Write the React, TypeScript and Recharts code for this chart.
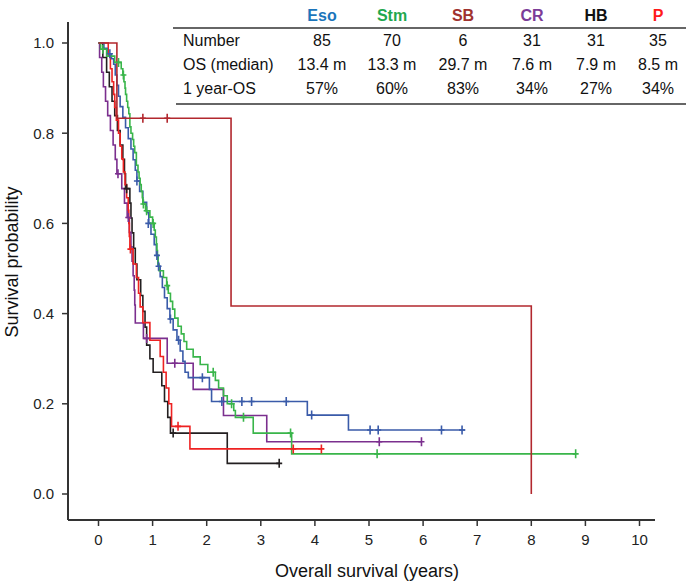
import React from 'react';
import { ComposedChart, Line, Scatter, XAxis, YAxis } from 'recharts';

if (typeof document !== 'undefined') {
  document.body.style.margin = '0';
  document.body.style.overflow = 'hidden';
}

const groups = ['Eso', 'Stm', 'SB', 'CR', 'HB', 'P'];
const headerColors = ['#1b75bb', '#1fa84f', '#a0322f', '#7c3c98', '#111111', '#ff1a1a'];
const curveColors = ['#3a5ba9', '#39b54a', '#b2282e', '#7b2f8e', '#231f20', '#ee2222'];
const numbers = ['85', '70', '6', '31', '31', '35'];
const medianOS = ['13.4 m', '13.3 m', '29.7 m', '7.6 m', '7.9 m', '8.5 m'];
const oneYearOS = ['57%', '60%', '83%', '34%', '27%', '34%'];
const rowLabels = ['Number', 'OS (median)', '1 year-OS'];
const xTicks = [0, 1, 2, 3, 4, 5, 6, 7, 8, 9, 10];
const yTicks = [0, 0.2, 0.4, 0.6, 0.8, 1.0];

const esoSteps = [
  [0, 1], [0.1, 0.988], [0.16, 0.976], [0.24, 0.965], [0.28, 0.953], [0.31, 0.929], [0.34, 0.906],
  [0.37, 0.882], [0.4, 0.859], [0.45, 0.835], [0.5, 0.812], [0.55, 0.788], [0.6, 0.765], [0.64, 0.741],
  [0.68, 0.718], [0.71, 0.694], [0.76, 0.671], [0.82, 0.647], [0.89, 0.624], [0.93, 0.6], [0.97, 0.576],
  [1.03, 0.553], [1.07, 0.529], [1.1, 0.505], [1.14, 0.482], [1.18, 0.458], [1.22, 0.435], [1.27, 0.411],
  [1.32, 0.388], [1.38, 0.364], [1.45, 0.341], [1.51, 0.317], [1.56, 0.294], [1.6, 0.27], [1.66, 0.258],
  [2.05, 0.232], [2.09, 0.205], [3.86, 0.175], [4.62, 0.142], [6.78, 0.142],
];
const esoCensor = [
  [0.21, 0.976], [0.71, 0.694], [0.92, 0.6], [1.08, 0.529], [1.11, 0.505], [1.33, 0.388], [1.48, 0.341],
  [1.92, 0.258], [2.28, 0.205], [2.65, 0.205], [2.83, 0.205], [3.47, 0.205], [3.94, 0.175],
  [5.02, 0.142], [5.17, 0.142], [6.34, 0.142], [6.72, 0.142],
];

const stmSteps = [
  [0, 1], [0.04, 0.986], [0.15, 0.971], [0.3, 0.957], [0.42, 0.943], [0.45, 0.929], [0.47, 0.914],
  [0.49, 0.9], [0.5, 0.886], [0.52, 0.871], [0.54, 0.857], [0.56, 0.843], [0.58, 0.814], [0.6, 0.8],
  [0.63, 0.786], [0.65, 0.771], [0.67, 0.757], [0.7, 0.729], [0.73, 0.714], [0.75, 0.7], [0.77, 0.686],
  [0.79, 0.671], [0.81, 0.657], [0.82, 0.643], [0.87, 0.628], [0.95, 0.614], [1.0, 0.6], [1.03, 0.585],
  [1.05, 0.57], [1.07, 0.555], [1.08, 0.54], [1.09, 0.525], [1.1, 0.51], [1.12, 0.495], [1.2, 0.48],
  [1.26, 0.462], [1.29, 0.445], [1.33, 0.427], [1.37, 0.41], [1.41, 0.39], [1.47, 0.372], [1.53, 0.355],
  [1.58, 0.338], [1.63, 0.321], [1.75, 0.304], [1.88, 0.287], [2.02, 0.27], [2.16, 0.252], [2.22, 0.235],
  [2.31, 0.218], [2.38, 0.2], [2.5, 0.185], [2.53, 0.17], [2.86, 0.135], [3.57, 0.089], [8.82, 0.089],
];
const stmCensor = [
  [0.08, 0.986], [0.37, 0.957], [0.46, 0.929], [0.83, 0.643], [0.89, 0.628], [1.01, 0.6], [1.27, 0.462],
  [2.12, 0.27], [2.46, 0.2], [2.68, 0.17], [3.55, 0.135], [5.15, 0.089], [8.82, 0.089],
];

const sbSteps = [[0, 1], [0.34, 0.833], [2.45, 0.417], [8.0, 0]];
const sbCensor = [[0.82, 0.833], [1.27, 0.833]];

const crSteps = [
  [0, 1], [0.02, 0.968], [0.06, 0.935], [0.09, 0.903], [0.13, 0.871], [0.17, 0.839], [0.22, 0.806],
  [0.27, 0.774], [0.31, 0.742], [0.34, 0.71], [0.43, 0.677], [0.48, 0.645], [0.53, 0.613], [0.57, 0.58],
  [0.6, 0.548], [0.62, 0.516], [0.64, 0.484], [0.66, 0.452], [0.67, 0.419], [0.68, 0.379], [0.83, 0.345],
  [1.27, 0.29], [1.75, 0.232], [2.31, 0.174], [3.11, 0.116], [5.97, 0.116],
];
const crCensor = [[0.36, 0.71], [0.55, 0.613], [0.89, 0.345], [1.41, 0.29], [5.19, 0.116], [5.97, 0.116]];

const hbSteps = [
  [0, 1], [0.08, 0.968], [0.15, 0.935], [0.2, 0.903], [0.25, 0.871], [0.3, 0.839], [0.35, 0.806],
  [0.4, 0.774], [0.45, 0.742], [0.48, 0.71], [0.5, 0.677], [0.58, 0.645], [0.6, 0.612], [0.62, 0.579],
  [0.65, 0.545], [0.68, 0.51], [0.71, 0.475], [0.78, 0.44], [0.82, 0.405], [0.86, 0.37], [0.89, 0.33],
  [0.95, 0.3], [1.01, 0.27], [1.17, 0.24], [1.22, 0.205], [1.28, 0.17], [1.33, 0.135], [2.38, 0.068],
  [3.34, 0.068],
];
const hbCensor = [[0.52, 0.677], [1.38, 0.135], [3.34, 0.068]];

const pSteps = [
  [0, 1], [0.18, 0.971], [0.22, 0.943], [0.25, 0.914], [0.28, 0.886], [0.3, 0.857], [0.33, 0.829],
  [0.37, 0.8], [0.4, 0.771], [0.43, 0.743], [0.46, 0.714], [0.49, 0.686], [0.52, 0.657], [0.55, 0.629],
  [0.56, 0.6], [0.57, 0.571], [0.58, 0.543], [0.64, 0.51], [0.7, 0.48], [0.74, 0.445], [0.77, 0.415],
  [0.82, 0.38], [0.95, 0.341], [1.14, 0.305], [1.2, 0.27], [1.25, 0.235], [1.3, 0.2], [1.35, 0.15],
  [1.69, 0.1], [4.12, 0.1],
];
const pCensor = [[0.59, 0.543], [1.47, 0.15], [3.6, 0.1], [4.12, 0.1]];

const toPts = (a: number[][]) => a.map(([t, s]) => ({ t, s }));

const series = [
  { key: 'HB', steps: hbSteps, censor: hbCensor, color: curveColors[4] },
  { key: 'CR', steps: crSteps, censor: crCensor, color: curveColors[3] },
  { key: 'P', steps: pSteps, censor: pCensor, color: curveColors[5] },
  { key: 'Eso', steps: esoSteps, censor: esoCensor, color: curveColors[0] },
  { key: 'Stm', steps: stmSteps, censor: stmCensor, color: curveColors[1] },
  { key: 'SB', steps: sbSteps, censor: sbCensor, color: curveColors[2] },
];

const FONT = '"Liberation Sans", Arial, Helvetica, sans-serif';

const makeCross = (color: string) => (props: any) => {
  const { cx, cy } = props;
  if (cx == null || cy == null) return <g />;
  return (
    <path
      d={`M${cx},${cy - 4.5}L${cx},${cy + 4.5}M${cx - 3},${cy}L${cx + 3},${cy}`}
      stroke={color}
      strokeWidth={1.6}
      fill="none"
    />
  );
};

const colX = [322, 392, 463, 532, 596, 658];
const rowY = [40, 64, 88];

export default function App() {
  const W = 686;
  const H = 581;
  return (
    <div style={{ position: 'relative', width: W, height: H, fontFamily: FONT, overflow: 'hidden' }}>
      <ComposedChart
        width={W}
        height={H}
        margin={{ top: 22, right: 31, bottom: 0, left: 0 }}
      >
        <XAxis
          type="number"
          dataKey="t"
          domain={[-0.5638, 10.2865]}
          ticks={xTicks}
          allowDataOverflow
          height={61}
          tickSize={6}
          tickMargin={8}
          axisLine={{ stroke: '#333', strokeWidth: 2 }}
          tickLine={{ stroke: '#333', strokeWidth: 1.5 }}
          tick={{ fill: '#222', fontSize: 15, fontFamily: FONT }}
        />
        <YAxis
          type="number"
          dataKey="s"
          domain={[-0.05765, 1.04656]}
          ticks={yTicks}
          allowDataOverflow
          width={68}
          tickSize={6}
          tickMargin={8}
          tickFormatter={(v: number) => v.toFixed(1)}
          axisLine={{ stroke: '#333', strokeWidth: 2 }}
          tickLine={{ stroke: '#333', strokeWidth: 1.5 }}
          tick={{ fill: '#222', fontSize: 15, fontFamily: FONT }}
        />
        {series.map((s) => (
          <Line
            key={s.key}
            data={toPts(s.steps)}
            dataKey="s"
            type="stepAfter"
            stroke={s.color}
            strokeWidth={1.6}
            dot={false}
            activeDot={false}
            isAnimationActive={false}
          />
        ))}
        {series.map((s) => (
          <Scatter
            key={s.key + '-c'}
            data={toPts(s.censor)}
            dataKey="s"
            shape={makeCross(s.color)}
            isAnimationActive={false}
          />
        ))}
      </ComposedChart>
      <svg
        width={W}
        height={H}
        style={{ position: 'absolute', left: 0, top: 0, pointerEvents: 'none' }}
      >
        <g fontFamily={FONT}>
          <line x1={173} x2={686} y1={28} y2={28} stroke="#333" strokeWidth={1.5} />
          <line x1={176} x2={686} y1={104} y2={104} stroke="#333" strokeWidth={1.5} />
          {groups.map((g, i) => (
            <text
              key={g}
              x={colX[i]}
              y={15}
              textAnchor="middle"
              dominantBaseline="central"
              fontSize={16}
              fontWeight="bold"
              fill={headerColors[i]}
            >
              {g}
            </text>
          ))}
          {rowLabels.map((r, j) => (
            <text key={r} x={183} y={rowY[j]} dominantBaseline="central" fontSize={16} fill="#111">
              {r}
            </text>
          ))}
          {[numbers, medianOS, oneYearOS].map((row, j) =>
            row.map((v, i) => (
              <text
                key={j + '-' + i}
                x={colX[i]}
                y={rowY[j]}
                textAnchor="middle"
                dominantBaseline="central"
                fontSize={16}
                fill="#111"
              >
                {v}
              </text>
            ))
          )}
          <text x={367} y={571} textAnchor="middle" dominantBaseline="central" fontSize={18} fill="#111">
            Overall survival (years)
          </text>
          <text
            x={12}
            y={262}
            textAnchor="middle"
            dominantBaseline="central"
            fontSize={18}
            fill="#111"
            transform="rotate(-90 12 262)"
          >
            Survival probability
          </text>
        </g>
      </svg>
    </div>
  );
}
